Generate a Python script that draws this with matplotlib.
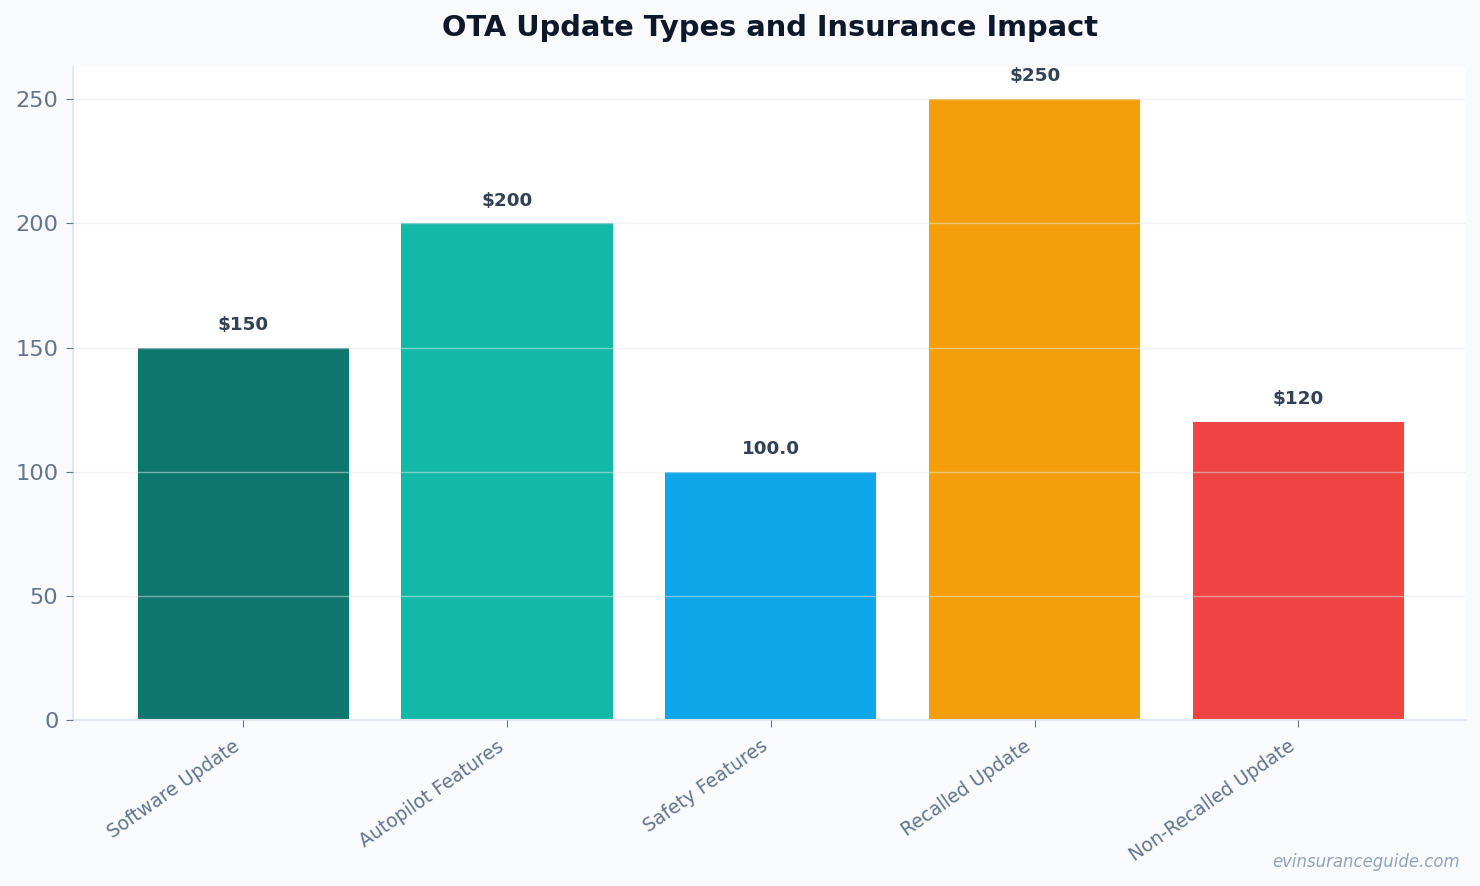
import os
import matplotlib
matplotlib.use("Agg")
import matplotlib.pyplot as plt
from matplotlib.font_manager import FontProperties

categories = ["Software Update", "Autopilot Features", "Safety Features", "Recalled Update", "Non-Recalled Update"]
values = [150, 200, 100.0, 250, 120]
value_labels = ["$150", "$200", "100.0", "$250", "$120"]
colors = ["#0f766e", "#14b8a6", "#0ea5e9", "#f59e0b", "#ef4444"]
yticks = [0, 50, 100, 150, 200, 250]

ttf = os.path.join(matplotlib.get_data_path(), "fonts", "ttf")
def fp(size, kind="DejaVuSans.ttf"):
    return FontProperties(fname=os.path.join(ttf, kind), size=size)

fig = plt.figure(figsize=(14.8, 8.86), dpi=100, facecolor="#f8fafc")
ax = fig.add_axes([73/1480, 1 - 720/886, (1466-73)/1480, (720-67)/886])
ax.set_facecolor("white")

x = list(range(len(categories)))
ax.bar(x, values, width=0.8, color=colors, zorder=2)

for xi, v, lab in zip(x, values, value_labels):
    ax.annotate(lab, (xi, v), xytext=(0, 10), textcoords="offset points",
                ha="center", va="bottom", fontproperties=fp(13.2, "DejaVuSans-Bold.ttf"),
                color="#334155")

ax.set_ylim(0, 263)
ax.set_xlim(-0.645, len(categories) - 1 + 0.635)
ax.set_yticks(yticks)
ax.set_yticklabels([str(t) for t in yticks], fontproperties=fp(16.2), color="#64748b")
ax.set_xticks(x)
ax.set_xticklabels(categories, rotation=35, ha="right",
                   fontproperties=fp(13.5), color="#64748b")
ax.tick_params(axis="y", color="#64748b", length=5, pad=5.5)
ax.tick_params(axis="x", color="#64748b", length=5, pad=7)

ax.yaxis.grid(True, color="#e2e8f0", alpha=0.5, linewidth=1, zorder=3)
ax.set_axisbelow(False)
for s in ["top", "right"]:
    ax.spines[s].set_visible(False)
for s in ["left", "bottom"]:
    ax.spines[s].set_color("#e2e8f0")
    ax.spines[s].set_linewidth(1.5)

ax.set_title("OTA Update Types and Insurance Impact",
             fontproperties=fp(20.8, "DejaVuSans-Bold.ttf"), color="#0f172a", pad=22.5)

fig.text(1460/1480, 1 - 862/886, "evinsuranceguide.com", ha="right", va="center",
         fontproperties=fp(11.9, "DejaVuSans-Oblique.ttf"), color="#94a3b8")

fig.savefig("out.png", dpi=100, facecolor=fig.get_facecolor())
